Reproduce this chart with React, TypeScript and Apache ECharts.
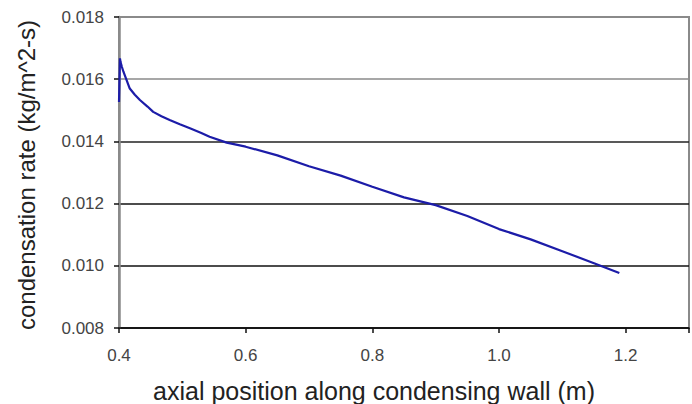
import React, { useEffect, useRef } from "react";
import * as echarts from "echarts";

const positions = [0.4, 0.4015, 0.4025, 0.4045, 0.407, 0.412, 0.417, 0.425, 0.433, 0.445, 0.454, 0.467, 0.48, 0.496, 0.512, 0.53, 0.543, 0.57, 0.6, 0.65, 0.7, 0.75, 0.8, 0.85, 0.9, 0.95, 1.0, 1.05, 1.1, 1.15, 1.19];
const rates = [0.01527, 0.01667, 0.01655, 0.0164, 0.01624, 0.01597, 0.0157, 0.0155, 0.01533, 0.01512, 0.01495, 0.01481, 0.01469, 0.01455, 0.01442, 0.01427, 0.01415, 0.01396, 0.01383, 0.01355, 0.0132, 0.0129, 0.01254, 0.0122, 0.01195, 0.0116, 0.01118, 0.01085, 0.01047, 0.01008, 0.00977];
const xTitle = "axial position along condensing wall (m)";
const yTitle = "condensation rate (kg/m^2-s)";

export default function App() {
  const ref = useRef<HTMLDivElement>(null);
  useEffect(() => {
    document.body.style.margin = "0";
    const chart = echarts.init(ref.current!, null, { renderer: "svg" });
    const font = "'Liberation Sans', Arial, sans-serif";
    chart.setOption({
      animation: false,
      backgroundColor: "#fff",
      grid: { left: 119, right: 3, top: 17, bottom: 76, show: true, borderColor: "#8a8a8a", borderWidth: 2, backgroundColor: "transparent" },
      xAxis: {
        type: "value",
        min: 0.4,
        max: 1.3,
        interval: 0.2,
        axisLine: { show: true, lineStyle: { color: "#111", width: 1.5 } },
        axisTick: { show: true, length: 5, lineStyle: { color: "#111", width: 1.5 } },
        splitLine: { show: false },
        axisLabel: {
          margin: 19,
          fontFamily: font,
          fontSize: 17,
          color: "#444",
          formatter: (v: number) => (Math.abs(v - 1.3) < 1e-6 ? "" : v.toFixed(1)),
        },
      },
      yAxis: {
        type: "value",
        min: 0.008,
        max: 0.018,
        interval: 0.002,
        axisLine: { show: true, lineStyle: { color: "#8a8a8a", width: 2.5 } },
        axisTick: { show: true, length: 5, lineStyle: { color: "#111", width: 1.5 } },
        splitLine: { show: true, lineStyle: { color: ["#111", "#111", "#111", "#222", "#8a8a8a", "#8a8a8a"], width: 1.5 } },
        axisLabel: {
          margin: 15,
          fontFamily: font,
          fontSize: 17,
          color: "#444",
          formatter: (v: number) => v.toFixed(3),
        },
      },
      series: [
        {
          type: "line",
          data: positions.map((p, i) => [p, rates[i]]),
          showSymbol: false,
          lineStyle: { color: "#1c1ca8", width: 2.2 },
          z: 5,
        },
      ],
      graphic: [
        {
          type: "text",
          x: 374,
          y: 391,
          style: { text: xTitle, fontFamily: font, fontSize: 25, fill: "#222", textAlign: "center", textVerticalAlign: "middle" },
        },
        {
          type: "text",
          x: 26,
          y: 175,
          rotation: Math.PI / 2,
          style: { text: yTitle, fontFamily: font, fontSize: 24, fill: "#222", textAlign: "center", textVerticalAlign: "middle" },
        },
      ],
    });
    return () => chart.dispose();
  }, []);
  return <div ref={ref} style={{ width: 692, height: 404 }} />;
}
